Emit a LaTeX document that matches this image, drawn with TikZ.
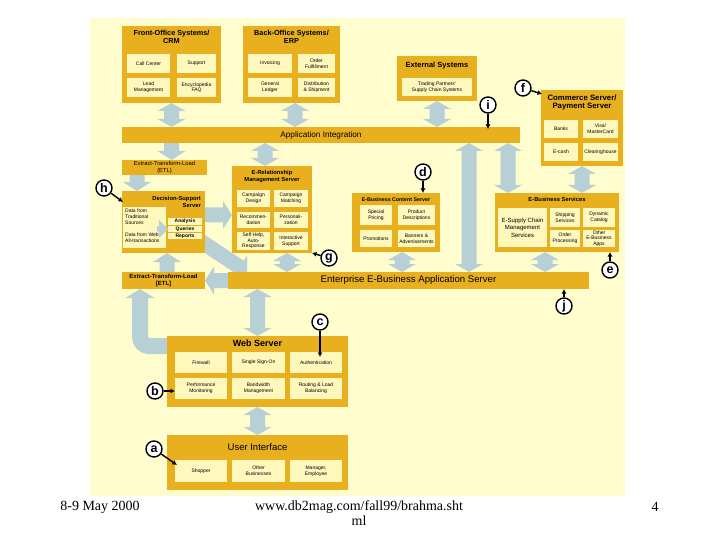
\documentclass[tikz,border=0pt]{standalone}
\usepackage{fontspec}
\setmainfont{Liberation Sans}
\newfontfamily\footfont{Liberation Serif}
\usetikzlibrary{calc,arrows.meta}
\definecolor{bgy}{RGB}{255,252,205}
\definecolor{org}{RGB}{232,176,30}
\definecolor{pal}{RGB}{255,248,188}
\definecolor{abl}{RGB}{182,208,214}
\pgfdeclarelayer{back}\pgfdeclarelayer{arr}\pgfsetlayers{back,arr,main}
\newcommand{\boxat}[7][]{\node[#1, anchor=north west, inner sep=0pt, outer sep=0pt, minimum width={(#5)-(#3)}, minimum height={(#6)-(#4)}] (#2) at (#3,#4) {#7};}
\newcommand{\arrowgeom}[2]{\path let \p1=#1, \p2=#2 in \pgfextra{\pgfmathsetmacro\tmpang{atan2(\y2-\y1,\x2-\x1)}\pgfmathsetmacro\tmplen{veclen(\x2-\x1,\y2-\y1)}\xdef\myang{\tmpang}\xdef\mylen{\tmplen}\xdef\myx{\x1}\xdef\myy{\y1}};}
\newcommand{\dblarrow}[3][15]{%
 \arrowgeom{#2}{#3}%
 \pgfmathsetmacro\ahs{#1/2}\pgfmathsetmacro\ahh{#1/2+6.5}\pgfmathsetmacro\ahk{\mylen-8}%
 \fill[abl, shift={(\myx,\myy)}, rotate=\myang] (0,0) -- (8,\ahh) -- (8,\ahs) -- (\ahk,\ahs) -- (\ahk,\ahh) -- (\mylen,0) -- (\ahk,-\ahh) -- (\ahk,-\ahs) -- (8,-\ahs) -- (8,-\ahh) -- cycle;}
\newcommand{\sglarrow}[3][15]{%
 \arrowgeom{#2}{#3}%
 \pgfmathsetmacro\ahs{#1/2}\pgfmathsetmacro\ahh{#1/2+6.5}\pgfmathsetmacro\ahk{\mylen-9}%
 \fill[abl, shift={(\myx,\myy)}, rotate=\myang] (0,\ahs) -- (\ahk,\ahs) -- (\ahk,\ahh) -- (\mylen,0) -- (\ahk,-\ahh) -- (\ahk,-\ahs) -- (0,-\ahs) -- cycle;}
\begin{document}
\begin{tikzpicture}[x=1pt,y=-1pt,
 ob/.style={fill=org},
 ib/.style={fill=pal, align=center, font=\fontsize{5}{5.6}\selectfont},
 tt/.style={align=center, inner sep=0pt, font=\bfseries\fontsize{7.3}{8}\selectfont},
 lbl/.style={circle, draw=black, line width=1.4pt, fill=white, inner sep=0pt, minimum size=16pt, font=\bfseries\fontsize{12.5}{12.5}\selectfont},
 lline/.style={line width=1.4pt, -{Latex[length=4.5pt,width=5pt]}},
 foot/.style={font=\footfont\fontsize{14}{15}\selectfont, align=center, inner sep=0pt}]
\useasboundingbox (0,0) rectangle (720,540);
\begin{pgfonlayer}{back}
\fill[bgy] (90,18) rectangle (625,496);
\end{pgfonlayer}

% Front office
\boxat[ob]{fo}{122}{26}{221}{103}{}
\node[tt, anchor=north] (fot) at ([yshift=-4pt]fo.north) {Front-Office Systems/\\CRM};
\boxat[ib]{fo1}{127}{54}{170}{73}{Call Center}
\boxat[ib]{fo2}{177}{54}{216}{73}{Support}
\boxat[ib]{fo3}{127}{78}{170}{97}{Lead\\Management}
\boxat[ib]{fo4}{177}{78}{216}{97}{Encyclopedia\\FAQ}
% Back office
\boxat[ob]{bo}{243}{26}{340}{103}{}
\node[tt, anchor=north] (bot) at ([yshift=-4pt]bo.north) {Back-Office Systems/\\ERP};
\boxat[ib]{bo1}{248}{54}{292}{73}{Invoicing}
\boxat[ib]{bo2}{298}{54}{335}{73}{Order\\Fulfillment}
\boxat[ib]{bo3}{248}{78}{292}{97}{General\\Ledger}
\boxat[ib]{bo4}{298}{78}{335}{97}{Distribution\\\& Shipment}
% External
\boxat[ob]{ex}{397}{56}{477}{101}{}
\node[tt, anchor=north, font=\bfseries\fontsize{7.5}{8}\selectfont] (ext) at ([yshift=-6pt]ex.north) {External Systems};
\boxat[ib]{ex1}{402}{78}{472}{96}{Trading Partners'\\Supply Chain Systems}
% Commerce
\boxat[ob]{cs}{541}{90}{623}{166}{}
\node[tt, anchor=north, font=\bfseries\fontsize{7.8}{8}\selectfont] (cst) at ([yshift=-5pt]cs.north) {Commerce Server/\\Payment Server};
\boxat[ib]{cs1}{544}{120}{578}{138}{Banks}
\boxat[ib]{cs2}{583}{120}{618}{138}{Visa/\\MasterCard}
\boxat[ib]{cs3}{544}{143}{578}{161}{E-cash}
\boxat[ib]{cs4}{583}{143}{618}{161}{Clearinghouse}
% Application integration
\boxat[ob, font=\fontsize{8.2}{9}\selectfont]{ai}{122}{127}{520}{143}{Application Integration}
% ETL top
\boxat[ob, align=center, font=\fontsize{5.8}{6.2}\selectfont]{etla}{122}{160}{207}{175}{Extract-Transform-Load\\(ETL)}
% Decision support
\boxat[ob]{ds}{122}{191}{205}{253}{}
\node[tt, anchor=north east, align=right, font=\bfseries\fontsize{5.8}{6.6}\selectfont] (dst) at ([xshift=-4pt,yshift=-5pt]ds.north east) {Decision-Support\\Server};
\boxat[ib]{ds1}{123}{207}{166}{248}{}
\node[anchor=north west, align=left, inner sep=0pt, font=\fontsize{5}{5.8}\selectfont] (ds1a) at (125,209) {Data from\\Traditional\\Sources};
\node[anchor=north west, align=left, inner sep=0pt, font=\fontsize{5}{5.8}\selectfont] (ds1b) at (125,233) {Data from Web\\All-transactions};
\boxat[ib, font=\bfseries\fontsize{5}{5}\selectfont]{an}{168}{218}{202}{225}{Analysis}
\boxat[ib, font=\bfseries\fontsize{5}{5}\selectfont]{qu}{168}{226}{202}{232}{Queries}
\boxat[ib, font=\bfseries\fontsize{5}{5}\selectfont]{re}{168}{233}{202}{239}{Reports}
% ETL lower
\boxat[ob, align=center, font=\bfseries\fontsize{6}{6.6}\selectfont]{etlb}{122}{272}{205}{289}{Extract-Transform-Load\\{[ETL]}}
% E-Relationship
\boxat[ob]{er}{232}{166}{312}{253}{}
\node[tt, anchor=north, font=\bfseries\fontsize{5.8}{6.6}\selectfont] (ert) at ([yshift=-4pt]er.north) {E-Relationship\\Management Server};
\boxat[ib]{er1}{237}{190}{270}{207}{Campaign\\Design}
\boxat[ib]{er2}{274}{190}{308}{207}{Campaign\\Matching}
\boxat[ib]{er3}{237}{212}{270}{228}{Recommen-\\dation}
\boxat[ib]{er4}{274}{212}{308}{228}{Personali-\\zation}
\boxat[ib]{er5}{237}{232}{270}{250}{Self Help,\\Auto-\\Response}
\boxat[ib]{er6}{274}{232}{308}{250}{Interactive\\Support}
% Content server
\boxat[ob]{cn}{352}{193}{440}{252}{}
\node[tt, anchor=north, font=\bfseries\fontsize{5.3}{6}\selectfont] (cnt) at ([yshift=-4pt]cn.north) {E-Business Content Server};
\boxat[ib]{cn1}{360}{205}{392}{225}{Special\\Pricing}
\boxat[ib]{cn2}{398}{205}{435}{225}{Product\\Descriptions}
\boxat[ib]{cn3}{360}{230}{392}{247}{Promotions}
\boxat[ib]{cn4}{398}{230}{435}{247}{Banners \&\\Advertisements}
% E-Business services
\boxat[ob]{es}{495}{193}{619}{252}{}
\node[tt, anchor=north, font=\bfseries\fontsize{5.8}{6.4}\selectfont] (est) at ([yshift=-4pt]es.north) {E-Business Services};
\boxat[ib, font=\fontsize{6}{7.4}\selectfont]{es1}{498}{208}{547}{247}{E-Supply Chain\\Management\\Services}
\boxat[ib]{es2}{550}{208}{580}{227}{Shipping\\Services}
\boxat[ib]{es3}{583}{208}{615}{227}{Dynamic\\Catalog}
\boxat[ib]{es4}{550}{230}{580}{247}{Order\\Processing}
\boxat[ib]{es5}{583}{230}{615}{247}{Other\\E-Business\\Apps}
% Enterprise
\boxat[ob, font=\fontsize{9.6}{10}\selectfont]{en}{228}{272}{589}{289}{Enterprise E-Business Application Server}
% Web server
\boxat[ob]{ws}{167}{336}{348}{407}{}
\node[tt, anchor=north, font=\bfseries\fontsize{9}{10}\selectfont] (wst) at ([yshift=-4pt]ws.north) {Web Server};
\boxat[ib]{fw}{175}{352}{227}{373}{Firewall}
\boxat[ib]{ss}{232}{352}{285}{373}{Single Sign-On}
\boxat[ib]{au}{290}{352}{342}{373}{Authentication}
\boxat[ib]{pm}{175}{378}{227}{399}{Performance\\Monitoring}
\boxat[ib]{bw}{232}{378}{285}{399}{Bandwidth\\Management}
\boxat[ib]{rl}{290}{378}{342}{399}{Routing \& Load\\Balancing}
% User interface
\boxat[ob]{ui}{167}{435}{348}{490}{}
\node[tt, anchor=north, font=\fontsize{9.5}{10}\selectfont] (uit) at ([yshift=-8pt]ui.north) {User Interface};
\boxat[ib]{sh}{175}{460}{227}{482}{Shopper}
\boxat[ib]{ob}{232}{460}{285}{482}{Other\\Businesses}
\boxat[ib]{me}{290}{460}{342}{482}{Manager,\\Employee}

% coordinates for the blue arrows
\coordinate (xbo) at (295,0);
\coordinate (xer) at (265,0);
\coordinate (xbig) at (469,0);
\coordinate (xes) at (508,0);
\coordinate (xd) at (137,0);
\coordinate (xu) at (167,0);
\coordinate (xq) at (287,0);
\coordinate (xcn) at (402,0);
\coordinate (xes2) at (545,0);
\coordinate (yr) at (0,215);
\coordinate (lsx) at (140,346);
\coordinate (lst) at (140,300);
\coordinate (lsh) at (140,305);
\coordinate (dg1) at (193,236);
\coordinate (dg2) at (247,272);
\coordinate (sm1) at (157,229);

\begin{pgfonlayer}{arr}
\dblarrow{(fo.south)}{(fo.south |- ai.north)}
\dblarrow{(xbo |- bo.south)}{(xbo |- ai.north)}
\dblarrow{(ex.south)}{(ex.south |- ai.north)}
\sglarrow{(fo.south |- ai.south)}{(fo.south |- etla.north)}
\dblarrow{(xer |- ai.south)}{(xer |- er.north)}
\dblarrow{(xbig |- ai.south)}{(xbig |- en.north)}
\dblarrow{(xes |- ai.south)}{(xes |- es.north)}
\dblarrow{(cs.south)}{(cs.south |- es.north)}
\sglarrow{(xd |- etla.south)}{(xd |- ds.north)}
\sglarrow{(ds.east |- yr)}{(er.west |- yr)}
\sglarrow{(dg1)}{(dg2)}
\sglarrow{(xu |- etlb.north)}{(xu |- ds.south)}
\sglarrow{(en.west)}{(etlb.east)}
\draw[abl, line width=16pt, rounded corners=9pt] (ws.west |- lsx) -- (lsx) -- (lst);
\sglarrow[16]{(lsh)}{(lsx |- etlb.south)}
\dblarrow{(ws.north |- en.south)}{(ws.north)}
\dblarrow{(xq |- er.south)}{(xq |- en.north)}
\dblarrow{(xcn |- cn.south)}{(xcn |- en.north)}
\dblarrow{(xes2 |- es.south)}{(xes2 |- en.north)}
\dblarrow{(ws.south)}{(ui.north)}
\end{pgfonlayer}
\sglarrow[5]{(sm1)}{(qu.west |- sm1)}

% letter labels
\node[lbl] (la) at (154,449) {a};
\node[lbl] (lb) at (155,391) {b};
\node[lbl] (lc) at (320,322) {c};
\node[lbl] (ld) at (423,172) {d};
\node[lbl] (le) at (610,270) {e};
\node[lbl] (lf) at (523,88) {f};
\node[lbl] (lg) at (329,258) {g};
\node[lbl] (lh) at (104,188) {h};
\node[lbl] (li) at (488,105) {i};
\node[lbl] (lj) at (564,306) {j};
\coordinate (pa) at ($(sh.north west)+(2,5)$);
\coordinate (pf) at ($(cs.north west)+(1,4)$);
\coordinate (ph) at ($(ds.north west)+(1,11)$);
\draw[lline] (la) -- (pa);
\draw[lline] (lb) -- (lb -| pm.west);
\draw[lline, shorten >=-5pt] (lc) -- (lc |- au.north);
\draw[lline] (ld) -- (ld |- cn.north);
\draw[lline] (le) -- (le |- es.south);
\draw[lline] (lf) -- (pf);
\draw[lline] (lg) -- (er.south east);
\draw[lline] (lh) -- (ph);
\draw[lline, shorten >=-2pt] (li) -- (li |- ai.north);
\draw[lline] (lj) -- (lj |- en.south);

% footer
\node[foot] (fd) at (100,507) {8-9 May 2000};
\node[foot, anchor=north] (fu) at (359,500) {www.db2mag.com/fall99/brahma.sht\\ml};
\node[foot] (fn) at (655,507) {4};
\end{tikzpicture}
\end{document}
